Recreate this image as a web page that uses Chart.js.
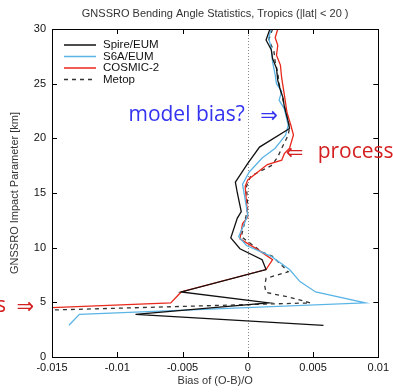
<!DOCTYPE html>
<html>
<head>
<meta charset="utf-8">
<script src="https://cdn.jsdelivr.net/npm/chart.js@4.4.0/dist/chart.umd.min.js"></script>
<style>
  body { margin: 0; background: #fff; }
  #wrap { width: 393px; height: 392px; }
</style>
</head>
<body>
<div id="wrap"><canvas id="bias"></canvas></div>
<script>
// impact parameter [km] and bias of (O-B)/O
const spireHeight = [30, 29, 28.1, 27.3, 26.4, 25.3, 24.6, 23.7, 22.9, 21.5, 20.9, 19.2, 17.7, 16.0, 15.0, 13.3, 12.7, 10.9, 9.9, 8.9, 8.0, 5.95, 4.95, 3.9, 2.9];
const spireBias   = [0.0017, 0.0014, 0.0018, 0.0019, 0.0022, 0.0023, 0.00245, 0.0027, 0.0028, 0.0031, 0.0032, 0.0009, 0.0000, -0.00095, -0.0008, -0.0005, -0.0008, -0.0013, -0.0006, 0.0011, 0.0014, -0.0051, 0.0016, -0.0086, 0.0058];

const s6aHeight = [30, 29.2, 28.2, 27, 25.8, 25, 24.3, 23.5, 22.7, 21.2, 20.3, 19.1, 18.2, 16.9, 15.8, 13.0, 12.1, 11.0, 10.2, 9.2, 8.0, 6.9, 5.95, 4.95, 3.9, 2.9];
const s6aBias   = [0.0018, 0.0016, 0.0018, 0.0019, 0.0021, 0.0022, 0.0026, 0.0024, 0.0028, 0.0031, 0.0029, 0.0021, 0.0011, 0.0001, -0.0004, 0.0000, -0.0003, -0.0007, -0.0001, 0.0018, 0.0032, 0.0040, 0.0052, 0.0090, -0.0129, -0.0137];

const cosmicHeight = [30, 29.2, 28.5, 27.6, 26.7, 25.5, 24, 22.4, 21.2, 20.3, 19.1, 18.6, 18.0, 17.6, 16.2, 15.6, 12.8, 12.2, 10.8, 9.8, 8.9, 8.0, 5.95, 4.95, 4.5];
const cosmicBias   = [0.0023, 0.0021, 0.0023, 0.0022, 0.0025, 0.0026, 0.0028, 0.0030, 0.0033, 0.0035, 0.0032, 0.0028, 0.0026, 0.0015, 0.0000, -0.0002, 0.0000, -0.0004, -0.0006, 0.0008, 0.0019, 0.0014, -0.0051, -0.0059, -0.0155];

const metopHeight = [30, 29, 28, 27, 26, 25, 24, 23, 22, 21, 20.3, 19.1, 18.3, 17.5, 16.9, 16.5, 15.6, 13.7, 12.5, 11.0, 9.6, 9.2, 7.8, 7.2, 6.5, 5.9, 5.5, 4.95, 4.28];
const metopBias   = [0.0019, 0.0016, 0.0020, 0.0021, 0.0023, 0.0024, 0.0026, 0.0028, 0.0030, 0.0032, 0.0031, 0.0026, 0.0023, 0.0018, 0.0008, 0.0002, -0.0001, 0.0000, -0.0002, -0.0005, 0.0011, 0.0019, 0.0031, 0.0014, 0.0013, 0.0014, 0.0031, 0.0048, -0.0155];

const seriesNames = ['Spire/EUM', 'S6A/EUM', 'COSMIC-2', 'Metop'];
const xTicks = [-0.015, -0.01, -0.005, 0, 0.005, 0.01];
const yTicks = [0, 5, 10, 15, 20, 25, 30];

const labelFont = 'Liberation Sans, Arial, sans-serif';

function toPoints(bias, height) {
  return bias.map((b, i) => ({x: b, y: height[i]}));
}

function line(label, bias, height, color, dash) {
  return {
    label: label,
    data: toPoints(bias, height),
    showLine: true,
    borderColor: color,
    backgroundColor: color,
    borderWidth: 1.3,
    borderDash: dash,
    pointRadius: 0,
    tension: 0
  };
}

const decor = {
  id: 'decor',
  beforeDatasetsDraw(chart) {
    const ctx = chart.ctx, a = chart.chartArea;
    const x0 = chart.scales.x.getPixelForValue(0);
    ctx.save();
    ctx.strokeStyle = '#888';
    ctx.lineWidth = 1;
    ctx.setLineDash([1, 2]);
    ctx.beginPath();
    ctx.moveTo(Math.round(x0) + 0.5, a.top);
    ctx.lineTo(Math.round(x0) + 0.5, a.bottom);
    ctx.stroke();
    ctx.restore();
  },
  afterDatasetsDraw(chart) {
    const ctx = chart.ctx, a = chart.chartArea;
    const sx = chart.scales.x, sy = chart.scales.y;
    ctx.save();
    ctx.strokeStyle = '#000';
    ctx.lineWidth = 1;
    ctx.strokeRect(Math.round(a.left) + 0.5, Math.round(a.top) + 0.5, Math.round(a.right - a.left), Math.round(a.bottom - a.top));
    ctx.beginPath();
    xTicks.forEach(v => {
      const px = Math.round(sx.getPixelForValue(v)) + 0.5;
      ctx.moveTo(px, a.bottom); ctx.lineTo(px, a.bottom - 5);
      ctx.moveTo(px, a.top); ctx.lineTo(px, a.top + 5);
    });
    yTicks.forEach(v => {
      const py = Math.round(sy.getPixelForValue(v)) + 0.5;
      ctx.moveTo(a.left, py); ctx.lineTo(a.left + 5, py);
      ctx.moveTo(a.right, py); ctx.lineTo(a.right - 5, py);
    });
    ctx.stroke();
    ctx.restore();
  },
  afterDraw(chart) {
    const ctx = chart.ctx, a = chart.chartArea;
    const sx = chart.scales.x, sy = chart.scales.y;
    ctx.save();
    // title
    ctx.fillStyle = '#333';
    ctx.font = '11px ' + labelFont;
    ctx.textAlign = 'center';
    ctx.textBaseline = 'middle';
    ctx.fillText('GNSSRO Bending Angle Statistics, Tropics (|lat| < 20 )', (a.left + a.right) / 2, 13.5);

    // legend
    ctx.font = '11.5px ' + labelFont;
    ctx.textAlign = 'left';
    chart.data.datasets.forEach((ds, i) => {
      const y = a.top + 16 + i * 11.5;
      ctx.strokeStyle = ds.borderColor;
      ctx.lineWidth = 1.5;
      ctx.setLineDash(ds.borderDash || []);
      ctx.beginPath();
      ctx.moveTo(a.left + 12, y);
      ctx.lineTo(a.left + 44, y);
      ctx.stroke();
      ctx.setLineDash([]);
      ctx.fillStyle = '#111';
      ctx.fillText(ds.label, a.left + 51, y);
    });

    // annotations
    ctx.textBaseline = 'middle';
    ctx.fillStyle = '#3333f0';
    const ax = sx.getPixelForValue(0.0023), ay = sy.getPixelForValue(22.0);
    ctx.font = '21px DejaVu Sans';
    ctx.textAlign = 'right';
    ctx.fillText('\u21D2', ax, ay);
    ctx.font = '21px Open Sans';
    ctx.fillText('model bias?', ax - 33, ay - 1);

    ctx.fillStyle = '#d42020';
    const px = sx.getPixelForValue(0.0029), py = sy.getPixelForValue(18.65);
    ctx.textAlign = 'left';
    ctx.font = '21px DejaVu Sans';
    ctx.fillText('\u21D0', px, py);
    ctx.font = '21px Open Sans';
    ctx.fillText('process', px + 32, py - 1);

    const lx = a.left - 18, ly = sy.getPixelForValue(4.55);
    ctx.textAlign = 'right';
    ctx.font = '21px DejaVu Sans';
    ctx.fillText('\u21D2', lx, ly);
    ctx.font = '21px Open Sans';
    ctx.fillText('s', lx - 28, ly - 1);
    ctx.restore();
  }
};

const ctx = document.getElementById('bias').getContext('2d');
new Chart(ctx, {
  type: 'scatter',
  data: {
    datasets: [
      line(seriesNames[0], spireBias, spireHeight, '#111111', []),
      line(seriesNames[1], s6aBias, s6aHeight, '#5ab4e6', []),
      line(seriesNames[2], cosmicBias, cosmicHeight, '#e8291c', []),
      line(seriesNames[3], metopBias, metopHeight, '#333333', [4, 4])
    ]
  },
  options: {
    responsive: true,
    maintainAspectRatio: false,
    animation: false,
    layout: { padding: { left: 0, right: 11, top: 29, bottom: 0 } },
    plugins: {
      legend: { display: false },
      title: { display: false },
      tooltip: { enabled: false }
    },
    scales: {
      x: {
        type: 'linear',
        min: -0.015,
        max: 0.01,
        afterFit: s => { s.height = 35; },
        afterBuildTicks: s => { s.ticks = xTicks.map(v => ({value: v})); },
        grid: { display: false, drawTicks: false },
        border: { display: false },
        ticks: {
          padding: 4,
          maxRotation: 0,
          color: '#111',
          font: { family: labelFont, size: 11 },
          callback: v => String(+v.toFixed(3))
        },
        title: {
          display: true,
          text: 'Bias of (O-B)/O',
          color: '#333',
          font: { family: labelFont, size: 11 },
          padding: { top: 0, bottom: 4.4 }
        }
      },
      y: {
        type: 'linear',
        min: 0,
        max: 30,
        afterFit: s => { s.width = 52; },
        afterBuildTicks: s => { s.ticks = yTicks.map(v => ({value: v})); },
        grid: { display: false, drawTicks: false },
        border: { display: false },
        ticks: {
          padding: 6,
          color: '#111',
          font: { family: labelFont, size: 11 }
        },
        title: {
          display: true,
          text: 'GNSSRO Impact Parameter [km]',
          color: '#333',
          font: { family: labelFont, size: 11 },
          padding: { top: 8.4, bottom: 0 }
        }
      }
    }
  },
  plugins: [decor]
});
</script>
</body>
</html>
